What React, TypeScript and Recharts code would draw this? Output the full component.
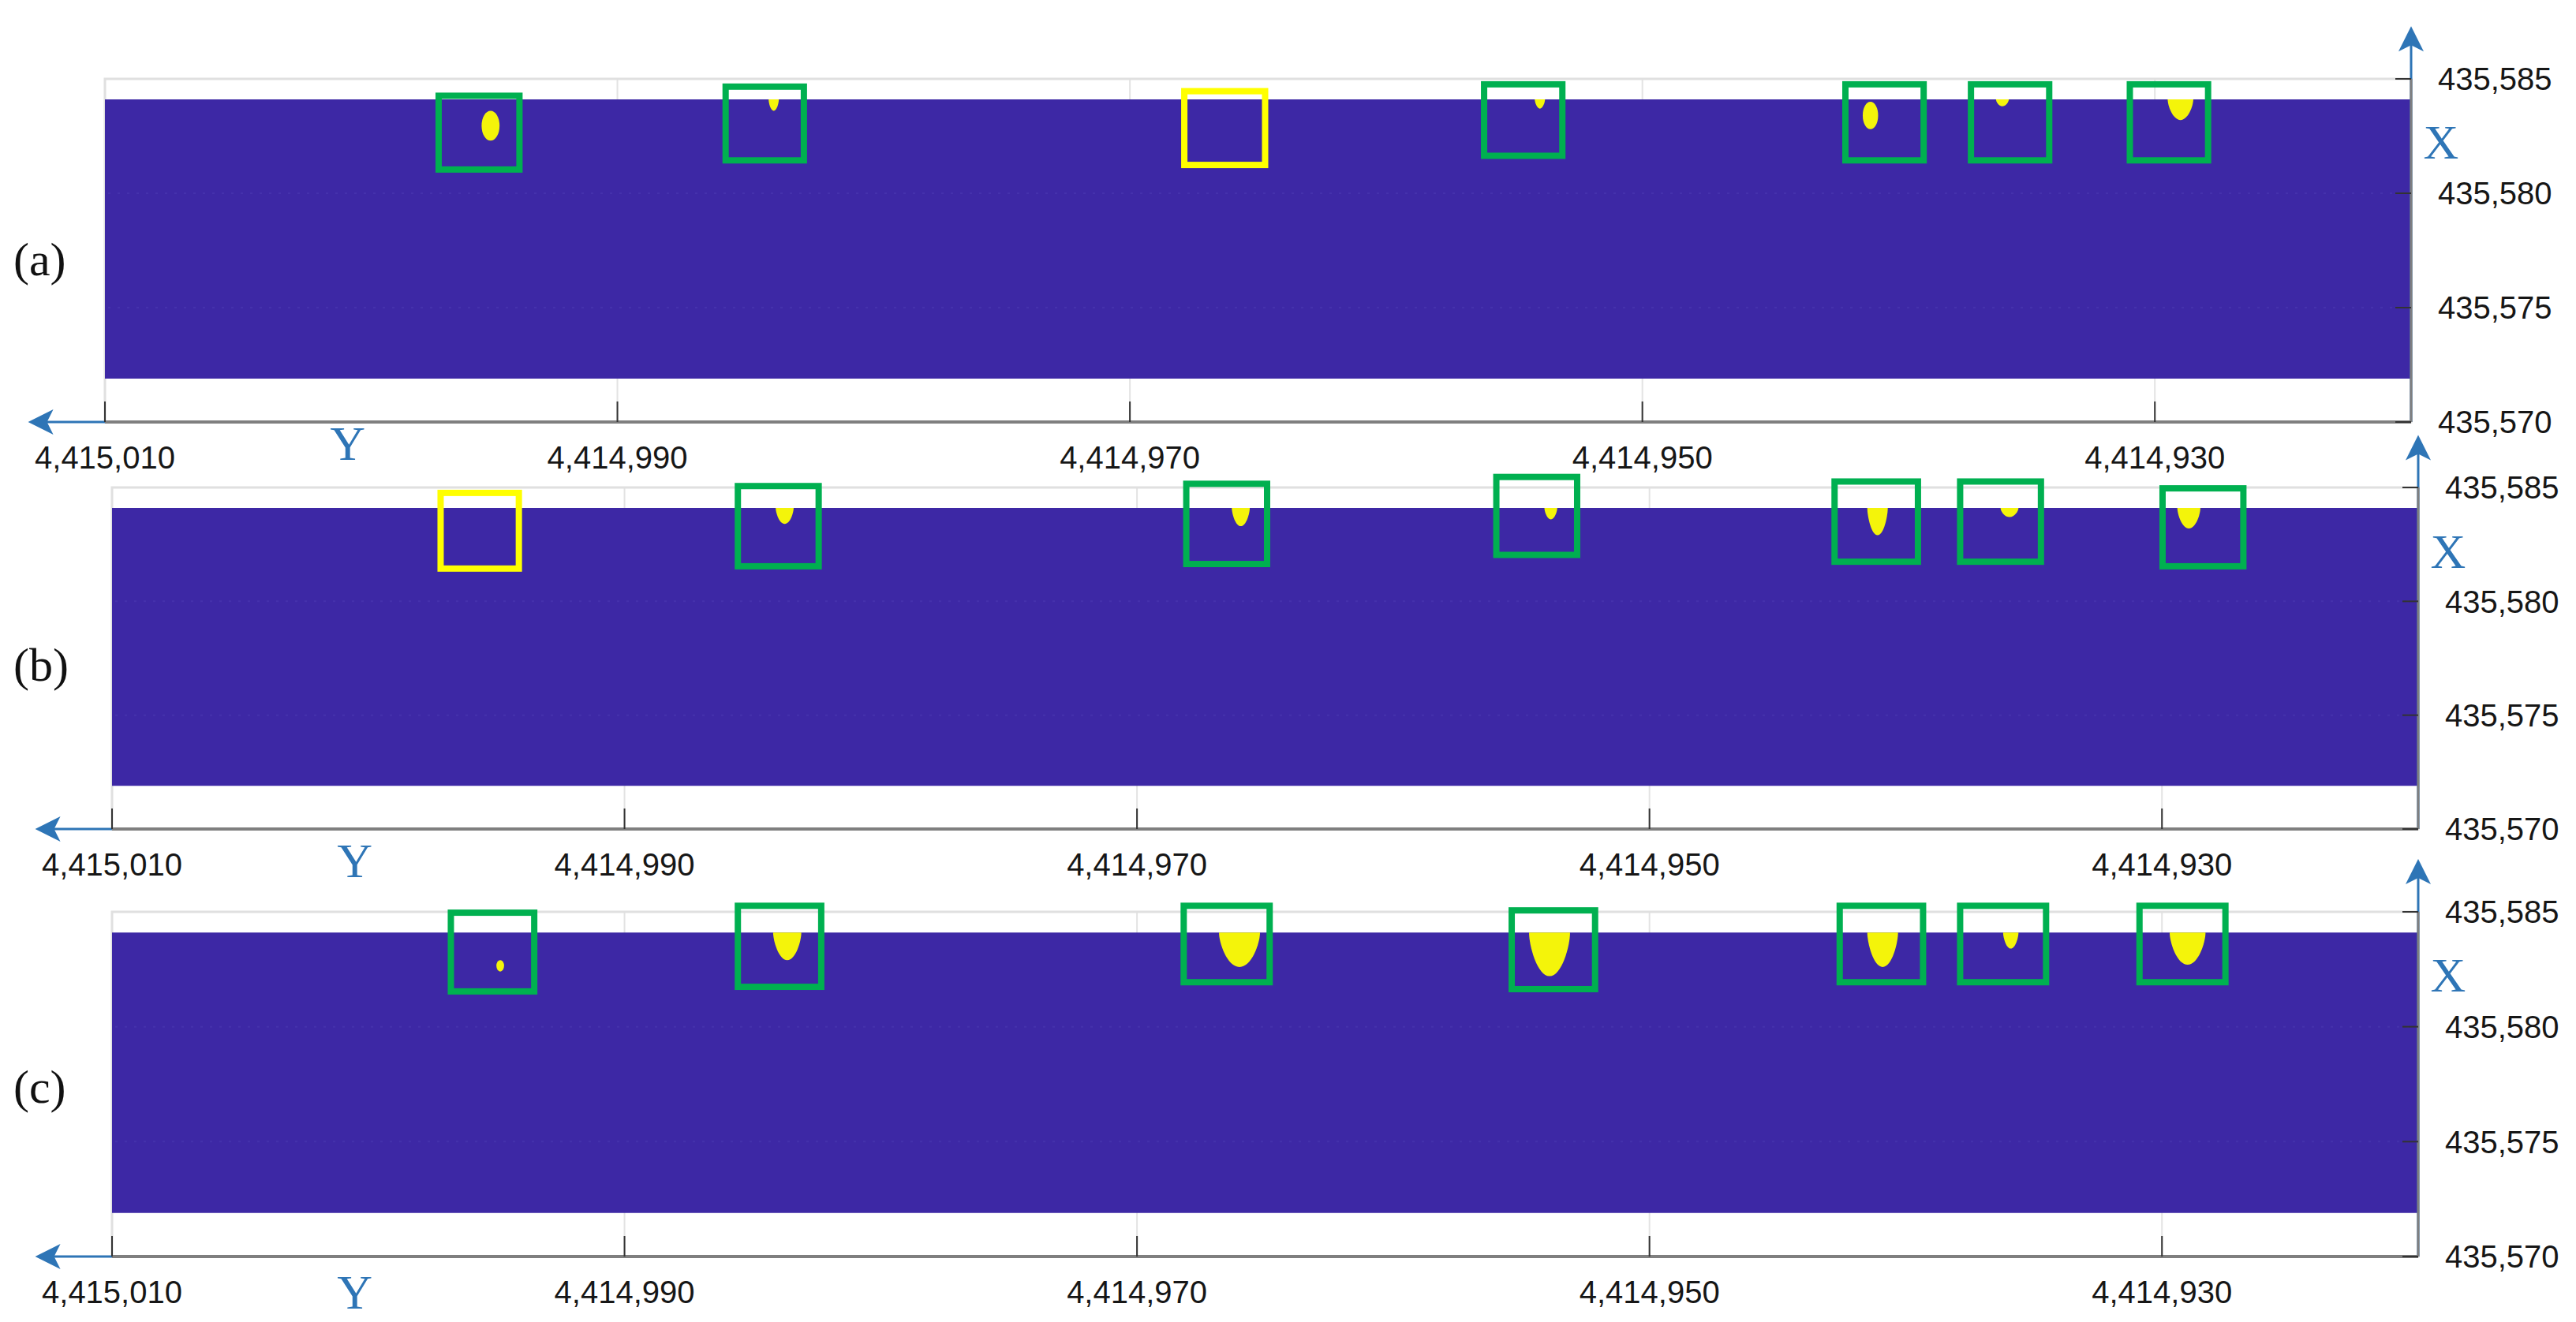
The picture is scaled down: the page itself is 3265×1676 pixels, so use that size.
import React from "react";
import {
  ComposedChart,
  XAxis,
  YAxis,
  CartesianGrid,
  ReferenceArea,
  ReferenceLine,
} from "recharts";

// map extent (chart x = easting-like "Y" coordinate, chart y = northing-like "X" coordinate)
const X_TICKS = [4415010, 4414990, 4414970, 4414950, 4414930];
const Y_TICKS = [435570, 435575, 435580, 435585];
const X_RANGE = [4414920, 4415010];
const Y_RANGE = [435570, 435585];
const RASTER_Y = [435571.9, 435584.1];
const ARROW_X_END = 4415013;
const ARROW_Y_END = 435587.3;

// detection windows, hit=false means missed (yellow window)
const boxesA = [
  { x1: 4414997.1, x2: 4414993.7, y1: 435584.4, y2: 435580.9, hit: true },
  { x1: 4414985.9, x2: 4414982.6, y1: 435584.8, y2: 435581.3, hit: true },
  { x1: 4414968.0, x2: 4414964.6, y1: 435584.6, y2: 435581.1, hit: false },
  { x1: 4414956.3, x2: 4414953.0, y1: 435584.9, y2: 435581.5, hit: true },
  { x1: 4414942.2, x2: 4414938.9, y1: 435584.9, y2: 435581.3, hit: true },
  { x1: 4414937.3, x2: 4414934.0, y1: 435584.9, y2: 435581.3, hit: true },
  { x1: 4414931.1, x2: 4414927.8, y1: 435584.9, y2: 435581.3, hit: true },
];
const boxesB = [
  { x1: 4414997.3, x2: 4414994.0, y1: 435584.9, y2: 435581.3, hit: false },
  { x1: 4414985.7, x2: 4414982.3, y1: 435585.2, y2: 435581.4, hit: true },
  { x1: 4414968.2, x2: 4414964.8, y1: 435585.3, y2: 435581.5, hit: true },
  { x1: 4414956.1, x2: 4414952.7, y1: 435585.6, y2: 435581.9, hit: true },
  { x1: 4414942.9, x2: 4414939.4, y1: 435585.4, y2: 435581.6, hit: true },
  { x1: 4414938.0, x2: 4414934.6, y1: 435585.4, y2: 435581.6, hit: true },
  { x1: 4414930.1, x2: 4414926.7, y1: 435585.1, y2: 435581.4, hit: true },
];
const boxesC = [
  { x1: 4414996.9, x2: 4414993.4, y1: 435585.1, y2: 435581.4, hit: true },
  { x1: 4414985.7, x2: 4414982.2, y1: 435585.4, y2: 435581.6, hit: true },
  { x1: 4414968.3, x2: 4414964.7, y1: 435585.4, y2: 435581.8, hit: true },
  { x1: 4414955.5, x2: 4414952.0, y1: 435585.2, y2: 435581.5, hit: true },
  { x1: 4414942.7, x2: 4414939.2, y1: 435585.4, y2: 435581.8, hit: true },
  { x1: 4414938.0, x2: 4414934.4, y1: 435585.4, y2: 435581.8, hit: true },
  { x1: 4414931.0, x2: 4414927.4, y1: 435585.4, y2: 435581.8, hit: true },
];

// detected anomaly patches
const blobsA = [
  { x1: 4414995.3, x2: 4414994.6, y1: 435583.6, y2: 435582.3, form: "ellipse" },
  { x1: 4414984.1, x2: 4414983.7, y1: 435584.1, y2: 435583.6, form: "drop" },
  { x1: 4414954.2, x2: 4414953.8, y1: 435584.1, y2: 435583.7, form: "drop" },
  { x1: 4414941.4, x2: 4414940.8, y1: 435584.0, y2: 435582.8, form: "ellipse" },
  { x1: 4414936.2, x2: 4414935.7, y1: 435584.1, y2: 435583.8, form: "drop" },
  { x1: 4414929.5, x2: 4414928.5, y1: 435584.1, y2: 435583.2, form: "drop" },
];
const blobsB = [
  { x1: 4414984.1, x2: 4414983.4, y1: 435584.1, y2: 435583.4, form: "drop" },
  { x1: 4414966.3, x2: 4414965.6, y1: 435584.1, y2: 435583.3, form: "drop" },
  { x1: 4414954.1, x2: 4414953.6, y1: 435584.1, y2: 435583.6, form: "drop" },
  { x1: 4414941.5, x2: 4414940.7, y1: 435584.1, y2: 435582.9, form: "drop" },
  { x1: 4414936.3, x2: 4414935.6, y1: 435584.1, y2: 435583.7, form: "drop" },
  { x1: 4414929.4, x2: 4414928.5, y1: 435584.1, y2: 435583.2, form: "drop" },
];
const blobsC = [
  { x1: 4414995.0, x2: 4414994.7, y1: 435582.9, y2: 435582.4, form: "ellipse" },
  { x1: 4414984.2, x2: 4414983.1, y1: 435584.1, y2: 435582.9, form: "drop" },
  { x1: 4414966.8, x2: 4414965.2, y1: 435584.1, y2: 435582.6, form: "drop" },
  { x1: 4414954.7, x2: 4414953.1, y1: 435584.1, y2: 435582.2, form: "drop" },
  { x1: 4414941.5, x2: 4414940.3, y1: 435584.1, y2: 435582.6, form: "drop" },
  { x1: 4414936.2, x2: 4414935.6, y1: 435584.1, y2: 435583.4, form: "drop" },
  { x1: 4414929.7, x2: 4414928.3, y1: 435584.1, y2: 435582.7, form: "drop" },
];

const W = 3265;
const AXIS_H = 60;
const AXIS_W = 200;
const BLUE = "#3d28a5";
const ARROW = "#2e75b6";
const GREEN = "#00b050";
const YELLOW = "#ffff00";
const BLOB = "#f4f40a";
const TICK_FONT = { fontSize: 40, fill: "#161616", fontFamily: "'Liberation Sans', Arial, sans-serif" };

const panels = [
  { label: "(a)", top: 0, height: 610, frameTop: 100, frameBottom: 535, left: 133, right: 3056, letterDy: 27, labelY: 329, boxes: boxesA, blobs: blobsA },
  { label: "(b)", top: 530, height: 600, frameTop: 618, frameBottom: 1051, left: 142, right: 3065, letterDy: 40, labelY: 843, boxes: boxesB, blobs: blobsB },
  { label: "(c)", top: 1070, height: 606, frameTop: 1156, frameBottom: 1593, left: 142, right: 3065, letterDy: 45, labelY: 1378, boxes: boxesC, blobs: blobsC },
];

const fmt = (v: number) => v.toLocaleString("en-US");

const boxShape = (color: string) => (p: any) => {
  const sw = 8;
  return (
    <rect
      x={p.x + sw / 2}
      y={p.y + sw / 2}
      width={Math.max(p.width - sw, 1)}
      height={Math.max(p.height - sw, 1)}
      fill="none"
      stroke={color}
      strokeWidth={sw}
    />
  );
};

const blobShape = (form: string) => (p: any) => {
  const { x, y, width: w, height: h } = p;
  if (form === "ellipse") {
    return <ellipse cx={x + w / 2} cy={y + h / 2} rx={w / 2} ry={h / 2} fill={BLOB} />;
  }
  // tapered drop hanging from the raster edge
  const d = `M${x},${y} L${x + w},${y} C${x + w},${y + h * 0.3} ${x + w * 0.8},${y + h} ${x + w / 2},${y + h} C${x + w * 0.2},${y + h} ${x},${y + h * 0.3} ${x},${y} Z`;
  return <path d={d} fill={BLOB} />;
};

const hArrow = (letterDy: number) => (p: any) => (
  <g>
    <line x1={p.x1 + 20} y1={p.y1} x2={p.x2} y2={p.y2} stroke={ARROW} strokeWidth={3} />
    <polygon
      points={`${p.x1},${p.y1} ${p.x1 + 32},${p.y1 - 16} ${p.x1 + 24},${p.y1} ${p.x1 + 32},${p.y1 + 16}`}
      fill={ARROW}
    />
    <text
      x={p.x1 + 405}
      y={p.y1 + letterDy}
      textAnchor="middle"
      dominantBaseline="central"
      fontSize={62}
      fontFamily="'Liberation Serif', 'DejaVu Serif', serif"
      fill={ARROW}
    >
      Y
    </text>
  </g>
);

const vArrow = (p: any) => (
  <g>
    <line x1={p.x1} y1={p.y1} x2={p.x2} y2={p.y2 + 20} stroke={ARROW} strokeWidth={3} />
    <polygon
      points={`${p.x2},${p.y2} ${p.x2 - 16},${p.y2 + 32} ${p.x2},${p.y2 + 24} ${p.x2 + 16},${p.y2 + 32}`}
      fill={ARROW}
    />
    <text
      x={p.x2 + 38}
      y={p.y2 + 147}
      textAnchor="middle"
      dominantBaseline="central"
      fontSize={62}
      fontFamily="'Liberation Serif', 'DejaVu Serif', serif"
      fill={ARROW}
    >
      X
    </text>
  </g>
);

function Panel({ cfg }: { cfg: (typeof panels)[number] }) {
  const margin = {
    top: cfg.frameTop - cfg.top,
    right: W - cfg.right - AXIS_W,
    bottom: cfg.top + cfg.height - cfg.frameBottom - AXIS_H,
    left: cfg.left,
  };
  return (
    <div style={{ position: "absolute", left: 0, top: cfg.top, width: W, height: cfg.height }}>
      <ComposedChart width={W} height={cfg.height} margin={margin}>
        <CartesianGrid horizontal={false} stroke="#e3e3e3" strokeWidth={2} />
        <XAxis
          type="number"
          dataKey="x"
          domain={X_RANGE}
          reversed
          allowDataOverflow
          ticks={X_TICKS}
          interval={0}
          tickFormatter={fmt}
          height={AXIS_H}
          tickSize={-26}
          tickMargin={57}
          tick={TICK_FONT}
          tickLine={{ stroke: "#333", strokeWidth: 2 }}
          axisLine={{ stroke: "#7f7f7f", strokeWidth: 4 }}
        />
        <YAxis
          type="number"
          dataKey="y"
          orientation="right"
          domain={Y_RANGE}
          allowDataOverflow
          ticks={Y_TICKS}
          interval={0}
          tickFormatter={fmt}
          width={AXIS_W}
          tickSize={-20}
          tickMargin={54}
          tick={TICK_FONT}
          tickLine={{ stroke: "#333", strokeWidth: 2 }}
          axisLine={{ stroke: "#7f7f7f", strokeWidth: 3 }}
        />
        <ReferenceArea
          x1={X_RANGE[0]}
          x2={X_RANGE[1]}
          y1={Y_RANGE[0]}
          y2={Y_RANGE[1]}
          fill="none"
          stroke="#e0e0e0"
          strokeWidth={3}
          ifOverflow="visible"
        />
        <ReferenceArea
          x1={X_RANGE[0]}
          x2={X_RANGE[1]}
          y1={RASTER_Y[0]}
          y2={RASTER_Y[1]}
          fill={BLUE}
          fillOpacity={1}
          stroke="none"
          ifOverflow="visible"
        />
        {[435575, 435580].map((v) => (
          <ReferenceLine key={v} y={v} stroke="#4532ac" strokeWidth={2} strokeDasharray="3 9" />
        ))}
        {cfg.blobs.map((b, i) => (
          <ReferenceArea
            key={`blob-${i}`}
            x1={b.x1}
            x2={b.x2}
            y1={b.y1}
            y2={b.y2}
            ifOverflow="visible"
            shape={blobShape(b.form)}
          />
        ))}
        {cfg.boxes.map((b, i) => (
          <ReferenceArea
            key={`box-${i}`}
            x1={b.x1}
            x2={b.x2}
            y1={b.y1}
            y2={b.y2}
            ifOverflow="visible"
            shape={boxShape(b.hit ? GREEN : YELLOW)}
          />
        ))}
        <ReferenceLine
          segment={[
            { x: ARROW_X_END, y: Y_RANGE[0] },
            { x: X_RANGE[0], y: Y_RANGE[0] },
          ]}
          ifOverflow="visible"
          shape={hArrow(cfg.letterDy)}
        />
        <ReferenceLine
          segment={[
            { x: X_RANGE[0], y: Y_RANGE[0] },
            { x: X_RANGE[0], y: ARROW_Y_END },
          ]}
          ifOverflow="visible"
          shape={vArrow}
        />
      </ComposedChart>
      <div
        style={{
          position: "absolute",
          left: 17,
          top: cfg.labelY - cfg.top - 36,
          height: 72,
          lineHeight: "72px",
          fontSize: 60,
          fontFamily: "'Liberation Serif', 'DejaVu Serif', serif",
          color: "#111",
        }}
      >
        {cfg.label}
      </div>
    </div>
  );
}

export default function App() {
  return (
    <div style={{ position: "absolute", left: 0, top: 0, width: W, height: 1676, background: "#fff" }}>
      {panels.map((p) => (
        <Panel key={p.label} cfg={p} />
      ))}
    </div>
  );
}
